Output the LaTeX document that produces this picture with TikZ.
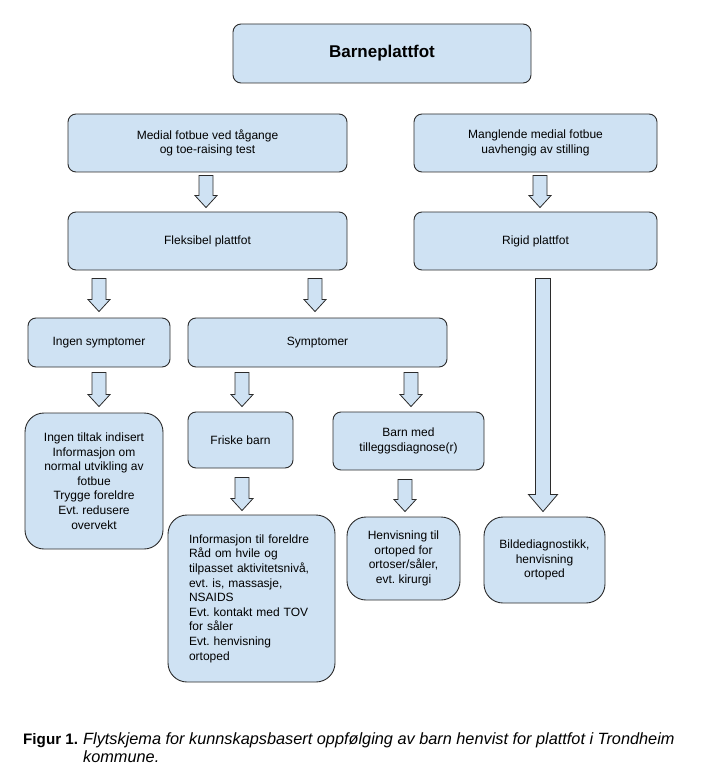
\documentclass[tikz,border=0pt]{standalone}
\usepackage{fontspec}
\setmainfont{Liberation Sans}
\usetikzlibrary{calc}
\frenchspacing
\definecolor{boxblue}{HTML}{CFE2F3}
\definecolor{edge}{HTML}{2B2B2B}
\tikzset{
  box/.style={draw=edge, fill=boxblue, line width=0.9pt, rounded corners=8pt, align=center,
    inner sep=2pt, font=\fontsize{12}{14.6}\selectfont},
  bigbox/.style={box, rounded corners=19pt},
  blockarrow/.style={draw=edge, fill=boxblue, line width=0.8pt, line join=miter},
  caption/.style={inner sep=0pt, font=\fontsize{16.3}{18}\selectfont}
}
% x, from, to, top gap, bottom gap
\newcommand\barrow[5]{%
  \draw[blockarrow] let \p1=(#2.south), \p2=(#3.north) in
    (#1pt-7pt,\y1-#4pt) -- (#1pt+7pt,\y1-#4pt) -- (#1pt+7pt,\y2+#5pt+12pt) --
    (#1pt+11pt,\y2+#5pt+12pt) -- (#1pt,\y2+#5pt) -- (#1pt-11pt,\y2+#5pt+12pt) --
    (#1pt-7pt,\y2+#5pt+12pt) -- cycle;}
\begin{document}
\begin{tikzpicture}[x=1pt,y=-1pt]
\useasboundingbox (0,0) rectangle (716,778);
\node[box, minimum width=298, minimum height=59] (title) at (382,53.5)
  {\bfseries\fontsize{17}{20}\selectfont Barneplattfot};
\node[box, minimum width=279, minimum height=58] (medial) at (207.5,143)
  {Medial fotbue ved tågange\\og toe-raising test};
\node[box, minimum width=243, minimum height=58] (mangl) at (535.5,143)
  {Manglende medial fotbue\\uavhengig av stilling};
\node[box, minimum width=279, minimum height=58] (fleks) at (207.5,241) {Fleksibel plattfot};
\node[box, minimum width=243, minimum height=58] (rigid) at (535.5,241) {Rigid plattfot};
\node[box, minimum width=142, minimum height=49] (ingen) at (99,342.5) {Ingen symptomer};
\node[box, minimum width=259, minimum height=49] (sympt) at (317.5,342.5) {Symptomer};
\node[bigbox, minimum width=138, minimum height=136] (tiltak) at (94,481)
  {Ingen tiltak indisert\\Informasjon om\\normal utvikling av\\fotbue\\Trygge foreldre\\Evt. redusere\\overvekt};
\node[box, minimum width=105, minimum height=56] (friske) at (240.5,440) {Friske barn};
\node[box, minimum width=151, minimum height=58] (barnmed) at (408.5,441)
  {Barn med\\tilleggsdiagnose(r)};
\node[bigbox, minimum width=167, minimum height=167, text width=125, inner xsep=21pt, align=left]
  (info) at (251.5,598.5)
  {Informasjon til foreldre\\Råd om hvile og\\tilpasset aktivitetsnivå,\\evt. is, massasje,\\NSAIDS\\Evt. kontakt med TOV\\for såler\\Evt. henvisning\\ortoped};
\node[bigbox, minimum width=113, minimum height=83] (henv) at (403.5,558.5)
  {Henvisning til\\ortoped for\\ortoser/såler,\\evt. kirurgi};
\node[bigbox, minimum width=121, minimum height=86] (bilde) at (544.5,560)
  {Bildediagnostikk,\\henvisning\\ortoped};

\barrow{206}{medial}{fleks}{3}{4}
\barrow{540}{mangl}{rigid}{3}{4}
\barrow{99}{fleks}{ingen}{8}{6}
\barrow{315}{fleks}{sympt}{8}{6}
\barrow{99}{ingen}{tiltak}{5}{6}
\barrow{242}{sympt}{friske}{5}{5}
\barrow{411}{sympt}{barnmed}{5}{5}
\barrow{242}{friske}{info}{9}{4}
\barrow{405}{barnmed}{henv}{9}{5}
\draw[blockarrow] let \p1=(rigid.south), \p2=(bilde.north) in
  (535.5pt,\y1-8pt) -- (550.5pt,\y1-8pt) -- (550.5pt,\y2+22pt) -- (557.5pt,\y2+22pt) --
  (543pt,\y2+5pt) -- (528.5pt,\y2+22pt) -- (535.5pt,\y2+22pt) -- cycle;

\node[caption, anchor=base west, font=\fontsize{15.2}{18}\selectfont] (figlab) at (23,744) {\bfseries Figur 1.};
\node[caption, anchor=base west] (cap1) at (83,744)
  {\itshape Flytskjema for kunnskapsbasert oppfølging av barn henvist for plattfot i Trondheim};
\node[caption, anchor=base west] (cap2) at (83,762) {\itshape kommune.};
\end{tikzpicture}
\end{document}
